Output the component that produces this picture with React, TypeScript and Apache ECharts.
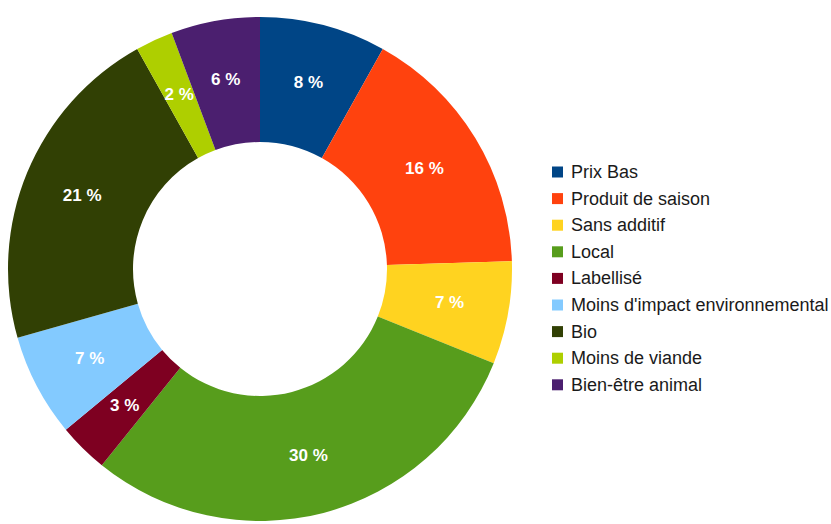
import React, { useEffect, useRef } from "react";
import * as echarts from "echarts";

const categories = [
  "Prix Bas",
  "Produit de saison",
  "Sans additif",
  "Local",
  "Labellisé",
  "Moins d'impact environnemental",
  "Bio",
  "Moins de viande",
  "Bien-être animal",
];
const values = [8.1, 16.4, 6.6, 29.7, 3.2, 6.6, 21.3, 2.4, 5.7];
const colors = [
  "#004586",
  "#ff420e",
  "#ffd320",
  "#579d1c",
  "#7e0021",
  "#83caff",
  "#314004",
  "#aecf00",
  "#4b1f6f",
];

export default function App() {
  const ref = useRef<HTMLDivElement>(null);
  useEffect(() => {
    const chart = echarts.init(ref.current!, null, { renderer: "svg" });
    chart.setOption({
      animation: false,
      color: colors,
      legend: {
        orient: "vertical",
        left: 547,
        top: 158,
        itemWidth: 11,
        itemHeight: 11,
        itemGap: 8.6,
        icon: "rect",
        data: categories,
        textStyle: {
          fontFamily: "Liberation Sans",
          fontSize: 18,
          color: "#1a1a1a",
          lineHeight: 18,
          padding: [0, 0, 0, 3],
        },
      },
      series: [
        {
          type: "pie",
          center: [260, 269],
          radius: [127, 252],
          startAngle: 90,
          clockwise: true,
          percentPrecision: 0,
          data: categories.map((name, i) => ({ name, value: values[i] })),
          label: {
            show: true,
            position: "inside",
            formatter: "{d} %",
            color: "#ffffff",
            fontFamily: "Liberation Sans",
            fontWeight: "bold",
            fontSize: 17,
          },
          labelLine: { show: false },
          itemStyle: { borderWidth: 0 },
          emphasis: { disabled: true },
        },
      ],
    });
    return () => chart.dispose();
  }, []);
  return (
    <div
      ref={ref}
      style={{ position: "fixed", left: 0, top: 0, width: 831, height: 524, background: "#fff" }}
    />
  );
}
